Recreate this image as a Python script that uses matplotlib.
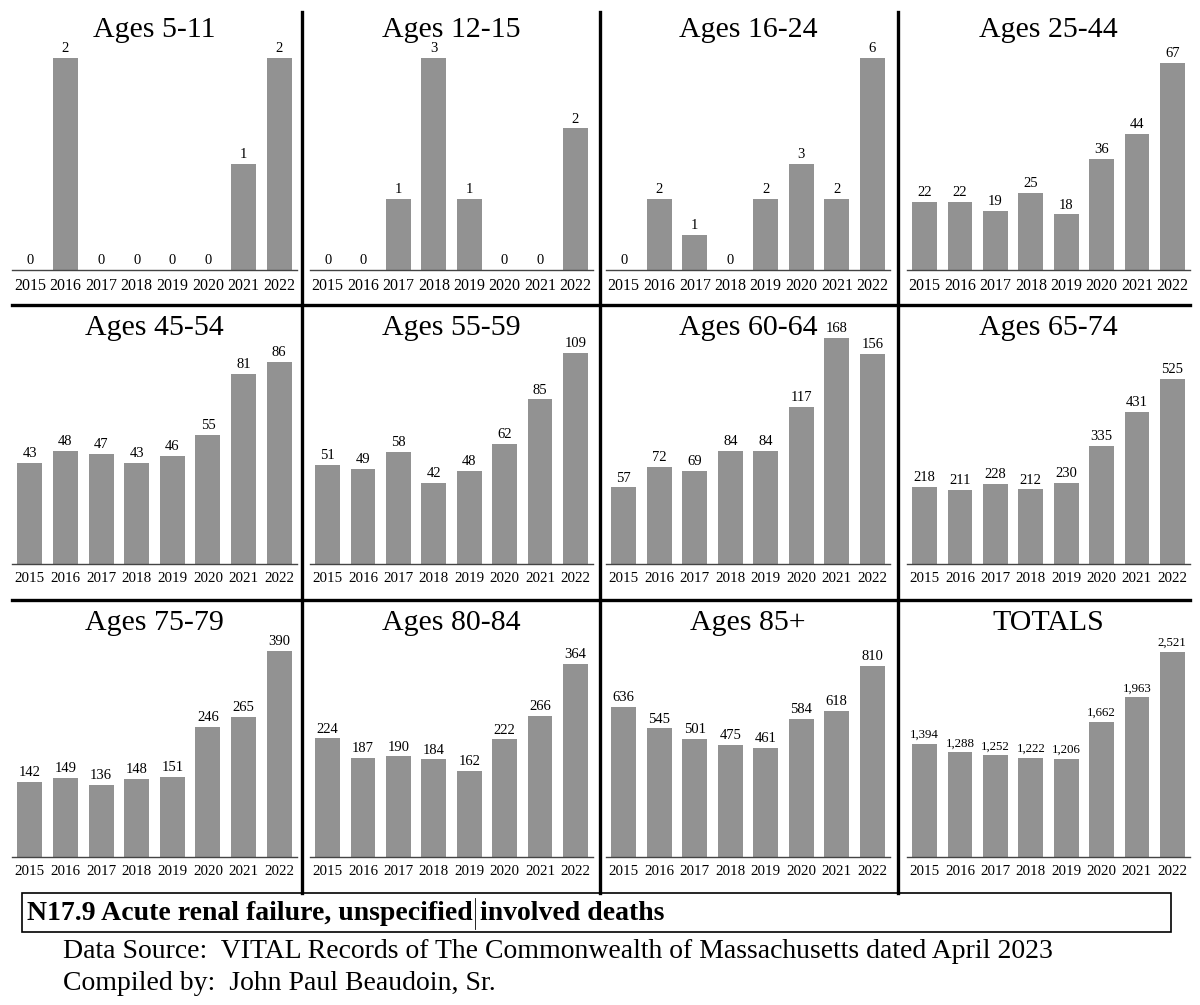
import matplotlib.pyplot as plt
from matplotlib.lines import Line2D
from matplotlib.patches import Rectangle

plt.rcParams['font.family'] = ['Liberation Serif', 'DejaVu Serif']

years = ['2015', '2016', '2017', '2018', '2019', '2020', '2021', '2022']

titles = ['Ages 5-11', 'Ages 12-15', 'Ages 16-24', 'Ages 25-44',
          'Ages 45-54', 'Ages 55-59', 'Ages 60-64', 'Ages 65-74',
          'Ages 75-79', 'Ages 80-84', 'Ages 85+', 'TOTALS']

ages_5_11 = [0, 2, 0, 0, 0, 0, 1, 2]
ages_12_15 = [0, 0, 1, 3, 1, 0, 0, 2]
ages_16_24 = [0, 2, 1, 0, 2, 3, 2, 6]
ages_25_44 = [22, 22, 19, 25, 18, 36, 44, 67]
ages_45_54 = [43, 48, 47, 43, 46, 55, 81, 86]
ages_55_59 = [51, 49, 58, 42, 48, 62, 85, 109]
ages_60_64 = [57, 72, 69, 84, 84, 117, 168, 156]
ages_65_74 = [218, 211, 228, 212, 230, 335, 431, 525]
ages_75_79 = [142, 149, 136, 148, 151, 246, 265, 390]
ages_80_84 = [224, 187, 190, 184, 162, 222, 266, 364]
ages_85_up = [636, 545, 501, 475, 461, 584, 618, 810]
totals = [1394, 1288, 1252, 1222, 1206, 1662, 1963, 2521]

series = [ages_5_11, ages_12_15, ages_16_24, ages_25_44,
          ages_45_54, ages_55_59, ages_60_64, ages_65_74,
          ages_75_79, ages_80_84, ages_85_up, totals]

# axis top for each panel
ytops = [2.17, 3.25, 6.5, 74.4, 97.9, 118.8, 171, 652.7, 435, 434, 975, 2828]

W, H = 1200, 1005
fig = plt.figure(figsize=(W / 100, H / 100), dpi=100)

col_px = [(12, 297), (310, 593), (606, 890), (907, 1190)]
base_px = [270, 564, 857]
title_px = [30, 328, 623]
ax_h = 230
tick_fs = [11.5, 10.8, 10.8]

def fx(px):
    return px / W

def fy(py):
    return 1 - py / H

for i, (name, vals) in enumerate(zip(titles, series)):
    r, c = divmod(i, 4)
    x0, x1 = col_px[c]
    ax = fig.add_axes([fx(x0), fy(base_px[r]), fx(x1 - x0), ax_h / H])
    bars = ax.bar(range(len(years)), vals, width=0.7, color='#929292')
    ax.set_xlim(-0.5, len(years) - 0.5)
    ax.set_ylim(0, ytops[i])
    ax.set_xticks(range(len(years)))
    ax.set_xticklabels(years, fontsize=tick_fs[r])
    ax.tick_params(axis='x', length=0, pad=6)
    ax.set_yticks([])
    for s in ['top', 'left', 'right']:
        ax.spines[s].set_visible(False)
    ax.spines['bottom'].set_color('#444444')
    ax.spines['bottom'].set_linewidth(1.0)
    ax.patch.set_alpha(0)
    fs = 9.3 if name == 'TOTALS' else 10.5
    ax.bar_label(bars, labels=[f'{v:,}' for v in vals], padding=2, fontsize=fs)
    fig.text(fx((x0 + x1) / 2), fy(title_px[r]), name, fontsize=21.5,
             ha='center', va='center')

# panel separators
for xs in [302, 600, 898]:
    fig.add_artist(Line2D([fx(xs), fx(xs)], [fy(12), fy(893)],
                          color='black', lw=2.4))
for ys in [305, 600]:
    fig.add_artist(Line2D([fx(12), fx(1190)], [fy(ys), fy(ys)],
                          color='black', lw=2.4))

# caption box
fig.add_artist(Rectangle((fx(22), fy(932)), fx(1171 - 22), (932 - 893) / H,
                         fill=False, edgecolor='black', lw=1.2))
cap1 = fig.text(fx(27), fy(913), 'N17.9 Acute renal failure, unspecified',
                fontsize=20, fontweight='bold', ha='left', va='center')
fig.canvas.draw()
bb = cap1.get_window_extent()
cursor_x = bb.x1 / W + 0.002
fig.add_artist(Line2D([cursor_x, cursor_x], [fy(898), fy(929)],
                      color='black', lw=0.6))
fig.text(cursor_x + 0.004, fy(913), 'involved deaths',
         fontsize=20, fontweight='bold', ha='left', va='center')

fig.text(fx(63), fy(951), 'Data Source:  VITAL Records of The Commonwealth of Massachusetts dated April 2023',
         fontsize=20, ha='left', va='center')
fig.text(fx(63), fy(983), 'Compiled by:  John Paul Beaudoin, Sr.',
         fontsize=20, ha='left', va='center')

fig.savefig('out.png', dpi=100)
plt.close()
